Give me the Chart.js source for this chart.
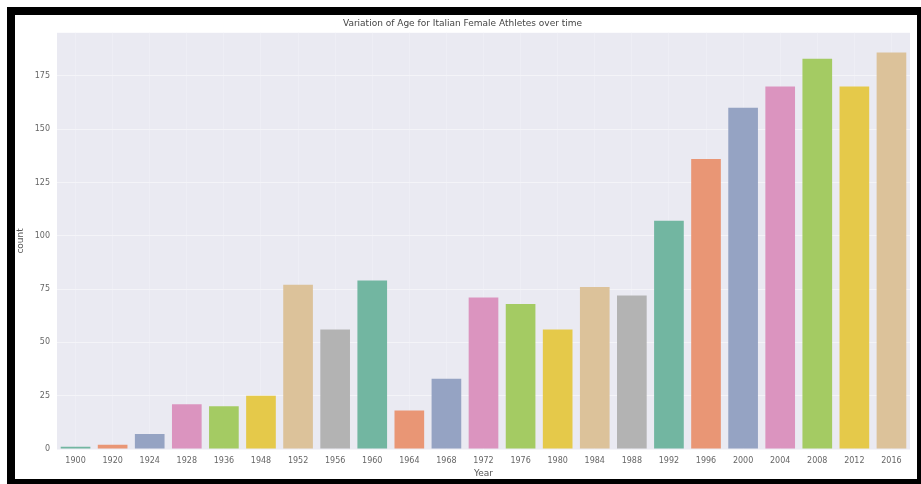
<!DOCTYPE html>
<html>
<head>
<meta charset="utf-8">
<script src="https://cdn.jsdelivr.net/npm/chart.js@4"></script>
<style>
  html, body { margin: 0; padding: 0; background: #fff; }
  #frame {
    position: absolute; left: 7px; top: 7px;
    width: 902px; height: 464px;
    border-style: solid; border-color: #000;
    border-width: 8px 4px 5px 8px;
    background: #fff;
  }
  #chart { display: block; }
</style>
</head>
<body>
<div id="frame"><canvas id="chart" width="902" height="464"></canvas></div>
<script>
// years on the x axis
const years = ["1900", "1920", "1924", "1928", "1936", "1948", "1952", "1956", "1960", "1964", "1968", "1972",
  "1976", "1980", "1984", "1988", "1992", "1996", "2000", "2004", "2008", "2012", "2016"];
// count per year
const counts = [1, 2, 7, 21, 20, 25, 77, 56, 79, 18, 33, 71, 68, 56, 76, 72, 107, 136, 160, 170, 183, 170, 186];
const yTicks = [0, 25, 50, 75, 100, 125, 150, 175];
// seaborn Set2, desaturated
const palette = ["#72b6a1", "#e99675", "#95a3c3", "#db94bf", "#a4cb63", "#e5c94a", "#dcc29a", "#b3b3b3"];

const plotBg = {
  id: "plotBg",
  beforeDraw(chart) {
    const { ctx, chartArea: a } = chart;
    ctx.save();
    ctx.fillStyle = "#eaeaf2";
    ctx.fillRect(a.left, a.top, a.right - a.left, a.bottom - a.top);
    ctx.restore();
  }
};

new Chart(document.getElementById("chart"), {
  type: "bar",
  data: {
    labels: years,
    datasets: [{
      label: "count",
      data: counts,
      backgroundColor: years.map((_, i) => palette[i % palette.length]),
      borderWidth: 0,
      barPercentage: 0.8,
      categoryPercentage: 1
    }]
  },
  options: {
    responsive: false,
    animation: false,
    layout: { padding: { left: 0, right: 7, top: 0, bottom: 0 } },
    plugins: {
      legend: { display: false },
      tooltip: { enabled: false },
      title: {
        display: true,
        text: "Variation of Age for Italian Female Athletes over time",
        color: "#444",
        font: { family: "DejaVu Sans", size: 9, weight: "normal" },
        padding: { top: 3, bottom: 4 }
      }
    },
    scales: {
      x: {
        grid: { color: "#eeeef5", lineWidth: 1, offset: false, drawTicks: false },
        border: { display: false },
        ticks: { color: "#666", font: { family: "DejaVu Sans", size: 8 }, padding: 7, maxRotation: 0, autoSkip: false },
        title: { display: true, text: "Year", color: "#555", font: { family: "DejaVu Sans", size: 9 }, padding: 0 },
        afterFit(s) { s.height = 30; }
      },
      y: {
        min: 0,
        max: 195.2,
        grid: { color: "#f4f4f8", lineWidth: 1, drawTicks: false },
        border: { display: false },
        afterBuildTicks(s) { s.ticks = yTicks.map(v => ({ value: v })); },
        ticks: { color: "#666", font: { family: "DejaVu Sans", size: 8 }, padding: 7 },
        title: { display: true, text: "count", color: "#555", font: { family: "DejaVu Sans", size: 9 }, padding: 0 },
        afterFit(s) { s.width = 42; }
      }
    }
  },
  plugins: [plotBg]
});
</script>
</body>
</html>
